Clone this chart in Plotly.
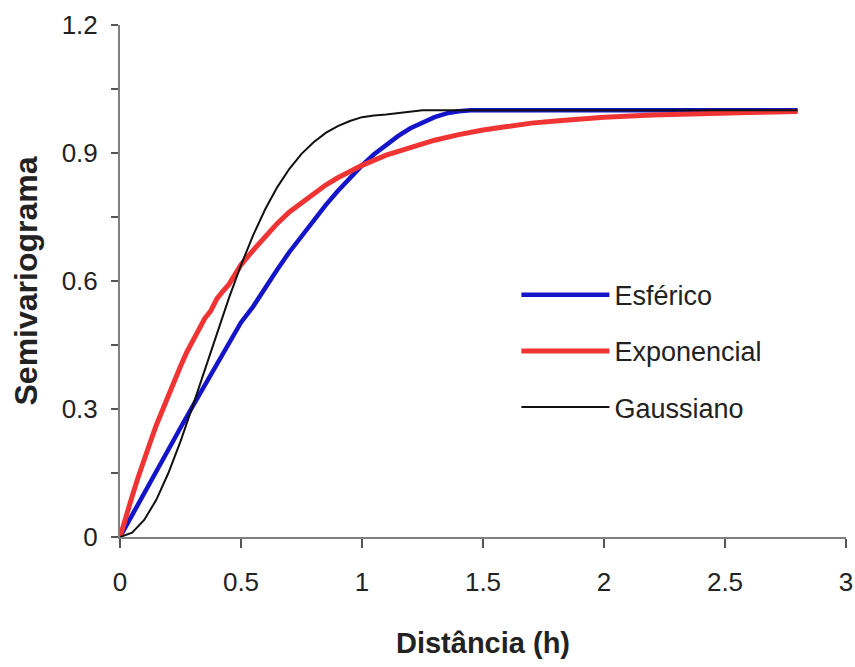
import plotly.graph_objects as go

# ---- data ----
esf_x = [0, 0.05, 0.1, 0.15, 0.2, 0.25, 0.3, 0.35, 0.4, 0.45, 0.5, 0.55, 0.6, 0.65, 0.7,
         0.75, 0.8, 0.85, 0.9, 0.95, 1.0, 1.05, 1.1, 1.15, 1.2, 1.25, 1.3, 1.35, 1.4, 1.45, 2.8]
esf_y = [0, 0.052, 0.103, 0.155, 0.206, 0.256, 0.306, 0.355, 0.403, 0.452, 0.503, 0.540, 0.585,
         0.627, 0.668, 0.705, 0.744, 0.778, 0.811, 0.842, 0.871, 0.897, 0.920, 0.940, 0.958,
         0.972, 0.984, 0.993, 0.998, 1.0, 1.0]

exp_x = [0, 0.025, 0.05, 0.075, 0.1, 0.125, 0.15, 0.175, 0.2, 0.225, 0.25, 0.275, 0.3, 0.325,
         0.35, 0.375, 0.4, 0.425, 0.45, 0.475, 0.5, 0.55, 0.6, 0.65, 0.7, 0.75, 0.8, 0.85, 0.9,
         0.95, 1.0, 1.1, 1.2, 1.3, 1.4, 1.5, 1.6, 1.7, 1.8, 1.9, 2.0, 2.2, 2.4, 2.6, 2.8]
exp_y = [0, 0.052, 0.095, 0.140, 0.184, 0.222, 0.262, 0.298, 0.335, 0.368, 0.400, 0.432, 0.458,
         0.488, 0.512, 0.530, 0.558, 0.576, 0.592, 0.615, 0.638, 0.672, 0.705, 0.735, 0.762,
         0.784, 0.805, 0.825, 0.842, 0.858, 0.871, 0.895, 0.914, 0.930, 0.943, 0.954, 0.962,
         0.970, 0.975, 0.980, 0.984, 0.989, 0.993, 0.995, 0.997]

gau_x = [0, 0.05, 0.1, 0.15, 0.2, 0.25, 0.3, 0.35, 0.4, 0.45, 0.5, 0.55, 0.6, 0.65, 0.7, 0.75,
         0.8, 0.85, 0.9, 0.95, 1.0, 1.05, 1.1, 1.15, 1.2, 1.25, 2.8]
gau_y = [0, 0.010, 0.040, 0.087, 0.150, 0.224, 0.306, 0.392, 0.477, 0.560, 0.637, 0.707, 0.768,
         0.820, 0.863, 0.898, 0.925, 0.947, 0.963, 0.975, 0.984, 0.988, 0.990, 0.993, 0.997,
         1.0, 1.0]

x_ticks = [0, 0.5, 1, 1.5, 2, 2.5, 3]
x_ticktext = ["0", "0.5", "1", "1.5", "2", "2.5", "3"]
y_ticks = [0, 0.15, 0.3, 0.45, 0.6, 0.75, 0.9, 1.05, 1.2]
y_ticktext = ["0", "", "0.3", "", "0.6", "", "0.9", "", "1.2"]

font_family = "Liberation Sans, Arial, sans-serif"

fig = go.Figure()
fig.add_trace(go.Scatter(x=esf_x, y=esf_y, mode="lines", name="Esférico",
                         line=dict(color="#1414c8", width=4.5), legendgroup="a"))
fig.add_trace(go.Scatter(x=exp_x, y=exp_y, mode="lines", name="Exponencial",
                         line=dict(color="#f03434", width=5), legendgroup="b"))
fig.add_trace(go.Scatter(x=gau_x, y=gau_y, mode="lines", name="Gaussiano",
                         line=dict(color="#111111", width=2), legendgroup="c"))

fig.update_layout(
    width=855, height=667,
    margin=dict(l=120, r=9, t=25, b=130, autoexpand=False),
    paper_bgcolor="white", plot_bgcolor="white",
    font=dict(family=font_family, color="#222222", size=24),
    showlegend=True,
    legend=dict(x=0.546, y=0.52, xanchor="left", yanchor="top",
                bgcolor="rgba(0,0,0,0)", font=dict(size=27, color="#222222"),
                itemwidth=88, tracegroupgap=18, traceorder="grouped"),
    xaxis=dict(range=[0, 3], tickvals=x_ticks, ticktext=x_ticktext,
               showgrid=False, zeroline=False, showline=True, linecolor="#808080",
               linewidth=2, ticks="outside", ticklen=9, tickwidth=2, tickcolor="#555555",
               tickfont=dict(size=26), ticklabelstandoff=12, automargin=False,
               title=dict(text="<b>Distância (h)</b>", font=dict(size=29), standoff=36)),
    yaxis=dict(range=[0, 1.2], tickvals=y_ticks, ticktext=y_ticktext,
               showgrid=False, zeroline=False, showline=True, linecolor="#808080",
               linewidth=2, ticks="outside", ticklen=7, tickwidth=2, tickcolor="#555555",
               tickfont=dict(size=26), ticklabelstandoff=8, automargin=False,
               title=dict(text="<b>Semivariograma</b>", font=dict(size=32), standoff=14)),
)

fig.write_html("out.html")
